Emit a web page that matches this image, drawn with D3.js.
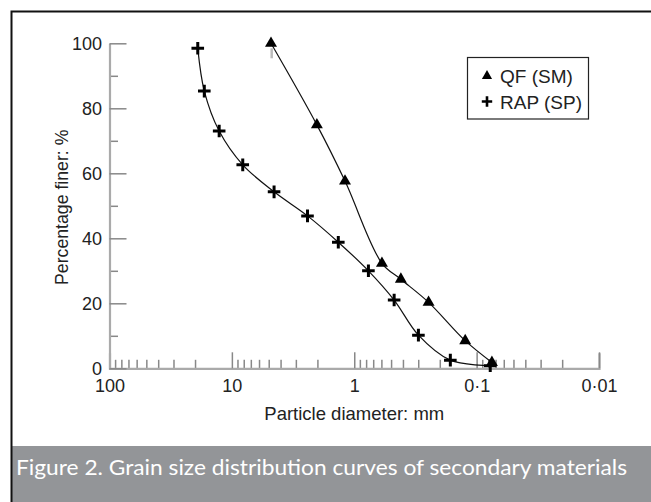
<!DOCTYPE html>
<html lang="en">
<head>
<meta charset="utf-8">
<title>Grain size distribution</title>
<script type="text/javascript" src="https://d3js.org/d3.v7.min.js"></script>
<style>
    body { margin: 0; background: #fff; }
    svg { display: block; }
    .axis text { font-family: "Liberation Sans", Arial, sans-serif; font-size: 18px; fill: #222; }
</style>
</head>
<body>
    <div id="chart"></div>
    <script type="text/javascript">

    // data: particle diameter (mm) and percentage finer (%)
    var qf_diameter = [4.79, 2.02, 1.19, 0.594, 0.416, 0.247, 0.124, 0.075];
    var qf_finer    = [100, 74.9, 57.6, 32.3, 27.4, 20.3, 8.5, 1.8];

    var rap_diameter = [19.0, 16.8, 12.7, 8.15, 4.52, 2.41, 1.35, 0.766, 0.472, 0.299, 0.164, 0.0774];
    var rap_finer    = [98.5, 85.3, 73.0, 62.6, 54.3, 46.9, 38.8, 30.0, 21.0, 10.2, 2.5, 0.8];

    var x_ticks = [100, 10, 1, 0.1, 0.01];
    var x_tick_labels = ['100', '10', '1', '0·1', '0·01'];
    var y_ticks = [0, 20, 40, 60, 80, 100];
    var y_minor = [10, 30, 50, 70, 90];

    var legend_labels = ['QF (SM)', 'RAP (SP)'];
    var caption = 'Figure 2. Grain size distribution curves of secondary materials';

    // container variables
    var width = 651;
    var height = 502;

    var svg = d3.select('#chart')
        .append('svg')
        .attr('width', width)
        .attr('height', height);

    // frame + caption band
    svg.append('rect')
        .attr('x', 12).attr('y', 446)
        .attr('width', width - 12).attr('height', height - 446)
        .attr('fill', '#939598');
    svg.append('path')
        .attr('d', 'M11.5,' + height + 'V11.5H' + width)
        .attr('fill', 'none')
        .attr('stroke', '#111')
        .attr('stroke-width', 2);
    svg.append('text')
        .attr('x', 16)
        .attr('y', 475)
        .attr('fill', '#fff')
        .style('font-family', 'Lato, "Open Sans", sans-serif')
        .style('font-size', '22px')
        .attr('textLength', 611)
        .attr('lengthAdjust', 'spacingAndGlyphs')
        .text(caption);

    // scales
    var x = d3.scaleLog()
        .domain([100, 0.01])
        .range([109.5, 599]);
    var y = d3.scaleLinear()
        .domain([0, 100])
        .range([368.3, 43.3]);

    // minor ticks 2..9 in every decade
    var x_minor = [];
    [100, 10, 1, 0.1].forEach(function(dec) {
        for (var i = 2; i <= 9; i++) x_minor.push(dec / 10 * i);
    });

    // x axis
    var xAxis = svg.append('g')
        .attr('class', 'axis')
        .attr('transform', 'translate(0,' + y(0) + ')');
    xAxis.call(d3.axisBottom(x)
        .tickValues(x_minor)
        .tickSize(-8.5)
        .tickSizeOuter(0)
        .tickFormat(''));
    xAxis.select('.domain').remove();
    xAxis.call(function(g) {
        var sub = g.append('g');
        sub.call(d3.axisBottom(x)
            .tickValues(x_ticks)
            .tickSize(-16)
            .tickSizeOuter(-15)
            .tickPadding(11)
            .tickFormat(function(d, i) { return x_tick_labels[i]; }));
    });

    // y axis
    var yAxis = svg.append('g')
        .attr('class', 'axis')
        .attr('transform', 'translate(' + x(100) + ',0)');
    yAxis.call(d3.axisLeft(y)
        .tickValues(y_minor)
        .tickSize(-8.5)
        .tickSizeOuter(0)
        .tickFormat(''));
    yAxis.select('.domain').remove();
    yAxis.append('g').call(d3.axisLeft(y)
        .tickValues(y_ticks)
        .tickSize(-17)
        .tickSizeOuter(0)
        .tickPadding(7.5));

    svg.selectAll('.axis .domain')
        .attr('stroke', '#aaa')
        .attr('stroke-width', 2.2);
    svg.selectAll('.axis .tick line')
        .attr('stroke', '#888')
        .attr('stroke-width', 1.5);
    svg.selectAll('.axis text').attr('fill', '#222');

    // axis titles
    svg.append('text')
        .attr('x', (x(100) + x(0.01)) / 2)
        .attr('y', 420)
        .attr('text-anchor', 'middle')
        .style('font-family', '"Liberation Sans", Arial, sans-serif')
        .style('font-size', '18.5px')
        .attr('fill', '#222')
        .text('Particle diameter: mm');
    svg.append('text')
        .attr('transform', 'translate(68,' + (y(50) + 1.5) + ') rotate(-90)')
        .attr('text-anchor', 'middle')
        .style('font-family', '"Liberation Sans", Arial, sans-serif')
        .style('font-size', '17.7px')
        .attr('fill', '#222')
        .text('Percentage finer: %');

    // curves
    var line = d3.line()
        .x(function(d) { return x(d[0]); })
        .y(function(d) { return y(d[1]); })
        .curve(d3.curveCatmullRom.alpha(0.5));

    var qf = d3.zip(qf_diameter, qf_finer);
    var rap = d3.zip(rap_diameter, rap_finer);

    // grey stub under the first QF point
    svg.append('line')
        .attr('x1', x(qf[0][0]) + 0.7).attr('x2', x(qf[0][0]) + 0.7)
        .attr('y1', y(qf[0][1]) + 5).attr('y2', y(qf[0][1]) + 15)
        .attr('stroke', '#bbb')
        .attr('stroke-width', 2.5);

    svg.append('path')
        .datum(qf)
        .attr('d', line)
        .attr('fill', 'none')
        .attr('stroke', '#111')
        .attr('stroke-width', 1.2);
    svg.append('path')
        .datum(rap)
        .attr('d', line)
        .attr('fill', 'none')
        .attr('stroke', '#111')
        .attr('stroke-width', 1.2);

    var triangle = d3.symbol().type(d3.symbolTriangle).size(62);
    var plusPath = function(s) {
        return 'M' + (-s) + ',0H' + s + 'M0,' + (-s) + 'V' + s;
    };

    svg.append('g').selectAll('path')
        .data(qf)
        .enter()
        .append('path')
        .attr('d', triangle)
        .attr('transform', function(d) { return 'translate(' + x(d[0]) + ',' + y(d[1]) + ')'; })
        .attr('fill', '#000');

    svg.append('g').selectAll('path')
        .data(rap)
        .enter()
        .append('path')
        .attr('d', plusPath(6.3))
        .attr('transform', function(d) { return 'translate(' + x(d[0]) + ',' + y(d[1]) + ')'; })
        .attr('stroke', '#000')
        .attr('stroke-width', 3);

    // legend
    var legend = svg.append('g');
    legend.append('rect')
        .attr('x', 467.5).attr('y', 57.5)
        .attr('width', 121).attr('height', 61.5)
        .attr('fill', '#fff')
        .attr('stroke', '#222')
        .attr('stroke-width', 1.2);
    legend.append('path')
        .attr('d', d3.symbol().type(d3.symbolTriangle).size(45))
        .attr('transform', 'translate(487,76)')
        .attr('fill', '#000');
    legend.append('path')
        .attr('d', plusPath(5.2))
        .attr('transform', 'translate(487,101.5)')
        .attr('stroke', '#000')
        .attr('stroke-width', 2.6);
    legend.selectAll('text')
        .data(legend_labels)
        .enter()
        .append('text')
        .attr('x', 500)
        .attr('y', function(d, i) { return 82.5 + i * 26.5; })
        .style('font-family', '"Liberation Sans", Arial, sans-serif')
        .style('font-size', '19px')
        .attr('fill', '#222')
        .text(function(d) { return d; });

</script>
</body>
</html>
